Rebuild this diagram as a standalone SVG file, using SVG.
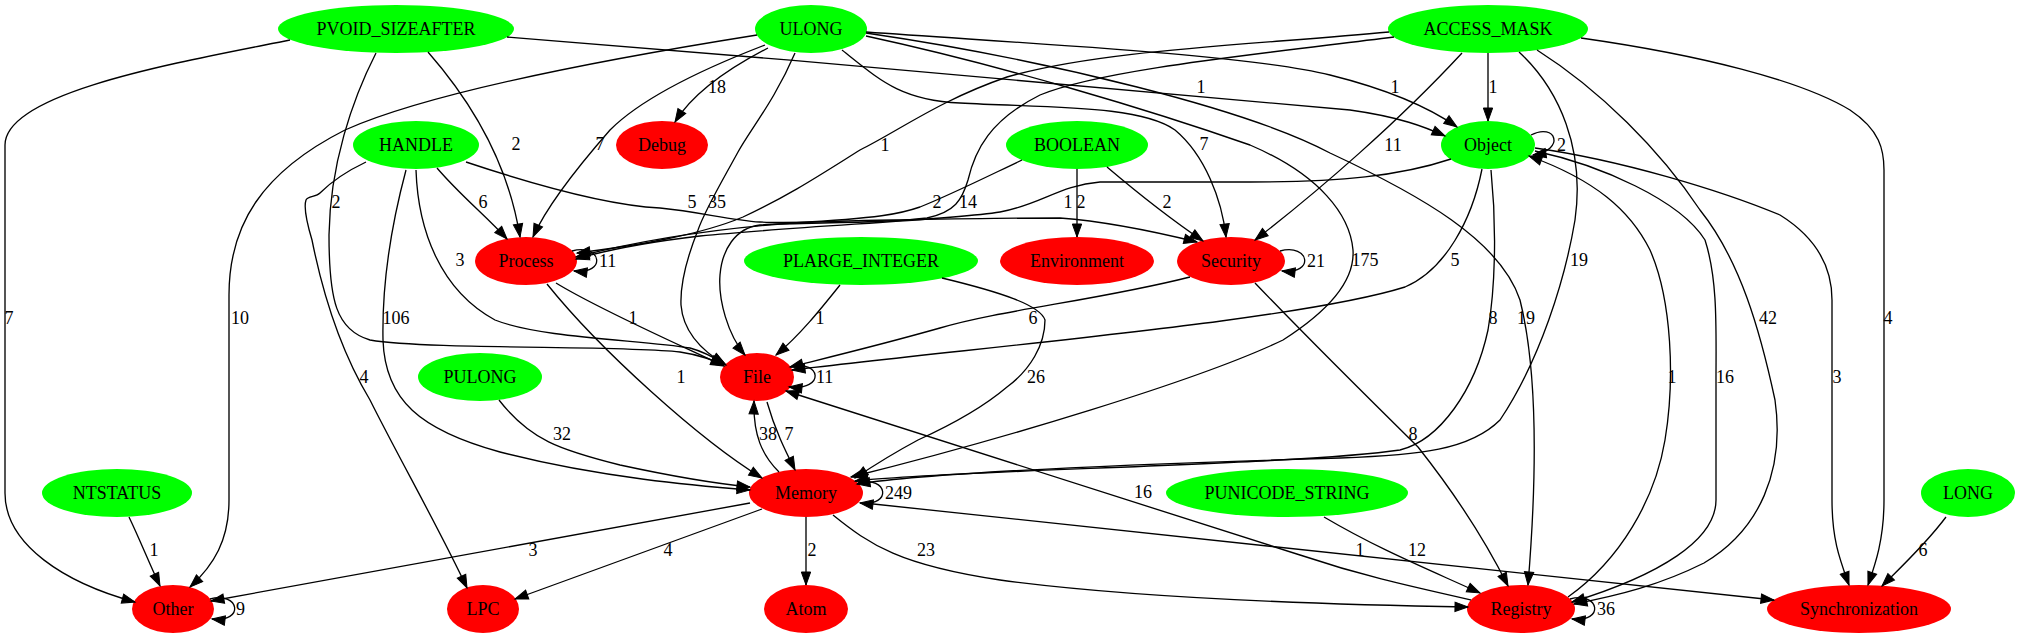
<svg xmlns="http://www.w3.org/2000/svg" width="2020" height="639" viewBox="0 0 2020 639">
<style>
.n text{font-family:"Liberation Serif","Times New Roman",serif;font-size:18px;text-anchor:middle;fill:#000}
.g{fill:#00ff00}
.r{fill:#ff0000}
#edges path{fill:none;stroke:#000;stroke-width:1.33;marker-end:url(#arr)}
#edges text{font-family:"Liberation Serif","Times New Roman",serif;font-size:18px;text-anchor:middle;fill:#000}
#edges text.s{text-anchor:start}
</style>
<defs>
<marker id="arr" markerUnits="userSpaceOnUse" markerWidth="16" markerHeight="12" refX="13" refY="5" orient="auto" viewBox="-1 -1 16 12">
<path d="M0,0.33 L13,5 L0,9.67 z" fill="#000" stroke="#000" stroke-width="1"/>
</marker>
</defs>
<rect width="2020" height="639" fill="#fff"/>

<g id="node-PVOID_SIZEAFTER" class="n"><ellipse class="g" cx="396" cy="29" rx="118" ry="24"/><text x="396" y="35">PVOID_SIZEAFTER</text></g>
<g id="node-ULONG" class="n"><ellipse class="g" cx="811" cy="29" rx="56" ry="24"/><text x="811" y="35">ULONG</text></g>
<g id="node-ACCESS_MASK" class="n"><ellipse class="g" cx="1488" cy="29" rx="100" ry="24"/><text x="1488" y="35">ACCESS_MASK</text></g>
<g id="node-HANDLE" class="n"><ellipse class="g" cx="416" cy="145" rx="63" ry="24"/><text x="416" y="151">HANDLE</text></g>
<g id="node-Debug" class="n"><ellipse class="r" cx="662" cy="145" rx="46" ry="24"/><text x="662" y="151">Debug</text></g>
<g id="node-BOOLEAN" class="n"><ellipse class="g" cx="1077" cy="145" rx="71" ry="24"/><text x="1077" y="151">BOOLEAN</text></g>
<g id="node-Object" class="n"><ellipse class="g" cx="1488" cy="145" rx="47" ry="24"/><text x="1488" y="151">Object</text></g>
<g id="node-Process" class="n"><ellipse class="r" cx="526" cy="261" rx="51" ry="24"/><text x="526" y="267">Process</text></g>
<g id="node-PLARGE_INTEGER" class="n"><ellipse class="g" cx="861" cy="261" rx="117" ry="24"/><text x="861" y="267">PLARGE_INTEGER</text></g>
<g id="node-Environment" class="n"><ellipse class="r" cx="1077" cy="261" rx="77" ry="24"/><text x="1077" y="267">Environment</text></g>
<g id="node-Security" class="n"><ellipse class="r" cx="1231" cy="261" rx="54" ry="24"/><text x="1231" y="267">Security</text></g>
<g id="node-PULONG" class="n"><ellipse class="g" cx="480" cy="377" rx="62" ry="24"/><text x="480" y="383">PULONG</text></g>
<g id="node-File" class="n"><ellipse class="r" cx="757" cy="377" rx="37" ry="24"/><text x="757" y="383">File</text></g>
<g id="node-NTSTATUS" class="n"><ellipse class="g" cx="117" cy="493" rx="75" ry="24"/><text x="117" y="499">NTSTATUS</text></g>
<g id="node-Memory" class="n"><ellipse class="r" cx="806" cy="493" rx="57" ry="24"/><text x="806" y="499">Memory</text></g>
<g id="node-PUNICODE_STRING" class="n"><ellipse class="g" cx="1287" cy="493" rx="121" ry="24"/><text x="1287" y="499">PUNICODE_STRING</text></g>
<g id="node-LONG" class="n"><ellipse class="g" cx="1968" cy="493" rx="47" ry="24"/><text x="1968" y="499">LONG</text></g>
<g id="node-Other" class="n"><ellipse class="r" cx="173" cy="609" rx="41" ry="24"/><text x="173" y="615">Other</text></g>
<g id="node-LPC" class="n"><ellipse class="r" cx="483" cy="609" rx="36" ry="24"/><text x="483" y="615">LPC</text></g>
<g id="node-Atom" class="n"><ellipse class="r" cx="806" cy="609" rx="42" ry="24"/><text x="806" y="615">Atom</text></g>
<g id="node-Registry" class="n"><ellipse class="r" cx="1521" cy="609" rx="54" ry="24"/><text x="1521" y="615">Registry</text></g>
<g id="node-Synchronization" class="n"><ellipse class="r" cx="1859" cy="609" rx="92" ry="24"/><text x="1859" y="615">Synchronization</text></g>

<g id="edges">
<!-- PVOID_SIZEAFTER -->
<path d="M290,40 C180,62 5,92 5,145 L5,493 C5,545 65,583 135,602"/>
<text x="9" y="324">7</text>
<path d="M376,53 C352,100 330,165 329,235 C329,300 336,330 370,340 C430,350 620,345 680,352 C700,355 712,360 724,365"/>
<text x="336" y="208">2</text>
<path d="M428,52 C470,100 508,160 520,237"/>
<text x="516" y="150">2</text>
<path d="M507,37 C800,60 1200,95 1350,110 C1400,117 1425,127 1445,136"/>
<text x="1201" y="93">1</text>
<!-- ULONG -->
<path d="M757,35 C600,60 430,92 345,130 C262,172 229,225 229,295 L229,500 C229,540 214,565 190,587"/>
<text x="240" y="324">10</text>
<path d="M768,48 C735,65 695,90 675,122"/>
<text x="717" y="93">18</text>
<path d="M765,45 C700,70 640,100 610,130 C575,170 545,210 533,237"/>
<text x="600" y="150">7</text>
<path d="M795,53 C775,100 750,130 738,152 C720,185 705,210 698,230 C688,255 680,280 681,305 C683,330 700,350 726,365"/>
<text x="717" y="208">35</text>
<path d="M842,50 C880,80 900,100 960,103 C1050,108 1140,105 1175,130 C1205,155 1222,200 1226,237"/>
<text x="1204" y="150">7</text>
<path d="M866,36 C1000,65 1150,110 1250,145 C1320,175 1350,215 1353,250 C1355,280 1330,310 1283,340 C1200,380 1000,440 851,477"/>
<text x="1365" y="266">175</text>
<path d="M866,33 C1050,60 1250,110 1330,153 C1420,195 1500,240 1520,300 C1540,380 1535,500 1528,585"/>
<text x="1526" y="324">19</text>
<path d="M866,32 C1050,45 1250,55 1330,75 C1390,90 1430,108 1457,127"/>
<text x="1395" y="93">1</text>
<!-- ACCESS_MASK -->
<path d="M1488,53 L1488,121"/>
<text x="1493" y="93">1</text>
<path d="M1462,53 C1400,120 1320,190 1255,240"/>
<text x="1393" y="151">11</text>
<path d="M1389,32 C1250,45 1100,50 1007,77 C940,100 900,130 860,150 C820,175 790,195 743,217 C700,235 640,245 577,253"/>
<text x="885" y="151">1</text>
<path d="M1394,37 C1250,55 1100,70 1040,95 C990,120 975,150 968,180 C962,200 955,212 927,218 C880,224 800,222 760,225 C735,228 722,250 720,275 C718,300 728,335 745,355"/>
<text x="968" y="208">14</text>
<path d="M1519,52 C1560,90 1585,150 1575,220 C1565,280 1540,360 1500,420 C1470,450 1420,455 1340,458 C1200,462 950,470 857,484"/>
<text x="1579" y="266">19</text>
<path d="M1537,50 C1600,90 1660,150 1700,210 C1740,260 1760,330 1775,400 C1785,470 1760,530 1704,563 C1660,585 1620,595 1574,604"/>
<text x="1768" y="324">42</text>
<path d="M1581,38 C1700,55 1800,80 1850,110 C1880,130 1884,150 1884,170 L1884,500 C1884,540 1875,565 1868,585"/>
<text x="1888" y="324">4</text>
<!-- HANDLE -->
<path d="M366,162 C345,172 328,185 320,193 C316,197 308,196 306,200 C304,206 306,220 312,240 C322,290 340,350 370,400 C400,460 440,530 467,588"/>
<text x="364" y="383">4</text>
<path d="M406,170 C390,230 382,290 383,340 C385,400 420,430 500,452 C600,478 700,486 750,490"/>
<text x="396" y="324">106</text>
<path d="M416,170 C418,230 440,290 495,320 C540,338 640,340 690,348 C705,352 715,358 725,364"/>
<text x="460" y="266">3</text>
<path d="M437,168 C460,195 485,215 507,239"/>
<text x="483" y="208">6</text>
<path d="M466,162 C520,180 600,205 660,208 C700,212 730,220 760,222 C800,224 850,220 893,220 C950,219 1000,218 1060,218 C1100,221 1140,228 1197,242"/>
<text x="692" y="208">5</text>
<!-- BOOLEAN -->
<path d="M1022,160 C980,180 950,195 920,207 C900,214 880,218 793,223 C700,230 630,243 576,257"/>
<text x="937" y="208">2</text>
<path d="M1077,169 L1077,237"/>
<text x="1081" y="208">2</text>
<path d="M1107,167 C1140,195 1175,222 1203,241"/>
<text x="1167" y="208">2</text>
<!-- Object -->
<path d="M1531,135 C1556,122 1566,150 1533,155"/>
<text class="s" x="1557" y="151">2</text>
<path d="M1451,159 C1400,176 1340,182 1250,182 L1100,182 C1060,185 1040,205 1000,212 C950,220 800,226 700,236 C640,243 600,252 576,259"/>
<text x="1068" y="208">1</text>
<path d="M1482,169 C1472,220 1445,270 1405,287 C1300,320 1000,345 792,370"/>
<text x="1455" y="266">5</text>
<path d="M1491,170 C1497,230 1495,290 1488,330 C1475,390 1440,440 1400,450 C1300,465 950,470 855,481"/>
<text x="1493" y="324">8</text>
<path d="M1535,148 C1620,160 1720,190 1780,215 C1820,240 1832,270 1832,300 L1832,500 C1832,540 1840,560 1849,585"/>
<text x="1837" y="383">3</text>
<path d="M1535,151 C1600,165 1680,200 1705,240 C1718,280 1716,330 1716,380 L1716,500 C1716,540 1660,575 1572,602"/>
<text x="1725" y="383">16</text>
<!-- Process -->
<path d="M572,251 C602,243 607,275 574,271"/>
<text class="s" x="599" y="267">11</text>
<path d="M556,283 C600,310 680,345 724,366"/>
<text x="633" y="324">1</text>
<path d="M547,284 C600,350 700,440 762,478"/>
<text x="681" y="383">1</text>
<!-- PLARGE_INTEGER -->
<path d="M840,285 C820,310 800,335 776,355"/>
<text x="820" y="324">1</text>
<path d="M942,278 C1000,292 1040,305 1045,320 C1045,345 1030,370 1007,387 C980,410 940,430 918,440 C890,455 870,468 855,478"/>
<text x="1036" y="383">26</text>
<!-- Security -->
<path d="M1280,251 C1310,243 1315,275 1282,271"/>
<text class="s" x="1307" y="267">21</text>
<path d="M1190,277 C1100,300 1000,310 940,328 C880,345 830,357 790,367"/>
<text x="1033" y="324">6</text>
<path d="M1255,283 C1300,330 1350,380 1418,447 C1460,500 1490,550 1508,586"/>
<text x="1413" y="440">8</text>
<!-- File -->
<path d="M791,367 C821,359 826,391 789,387"/>
<text class="s" x="816" y="383">11</text>
<path d="M767,402 C775,430 785,450 795,470"/>
<text x="789" y="440">7</text>
<!-- Memory -->
<path d="M779,472 C762,455 753,435 754,401"/>
<text x="768" y="440">38</text>
<path d="M858,483 C888,475 893,507 860,503"/>
<text class="s" x="885" y="499">249</text>
<path d="M750,503 L211,601"/>
<text x="533" y="556">3</text>
<path d="M762,509 L515,599"/>
<text x="668" y="556">4</text>
<path d="M806,517 L806,585"/>
<text x="812" y="556">2</text>
<path d="M833,515 C870,545 900,565 1000,580 C1150,600 1350,605 1468,607"/>
<text x="926" y="556">23</text>
<path d="M864,503 L1774,600"/>
<text x="1360" y="556">1</text>
<!-- PULONG -->
<path d="M499,400 C530,440 560,450 620,465 C680,478 720,484 750,487"/>
<text x="562" y="440">32</text>
<!-- NTSTATUS -->
<path d="M129,517 C140,540 150,565 160,586"/>
<text x="154" y="556">1</text>
<!-- PUNICODE_STRING -->
<path d="M1324,517 C1380,550 1430,570 1480,593"/>
<text x="1417" y="556">12</text>
<!-- LONG -->
<path d="M1946,517 C1925,545 1900,568 1882,586"/>
<text x="1923" y="556">6</text>
<!-- Registry -->
<path d="M1570,599 C1600,591 1605,623 1572,619"/>
<text class="s" x="1597" y="615">36</text>
<path d="M1471,600 C1400,584 1360,575 1300,555 L786,391"/>
<text x="1143" y="498">16</text>
<path d="M1568,597 C1620,560 1655,500 1665,440 C1675,380 1672,300 1650,250 C1630,210 1595,180 1529,156"/>
<text x="1672" y="383">1</text>
<!-- Other -->
<path d="M210,599 C240,591 245,623 212,619"/>
<text class="s" x="236" y="615">9</text>
</g>
</svg>
